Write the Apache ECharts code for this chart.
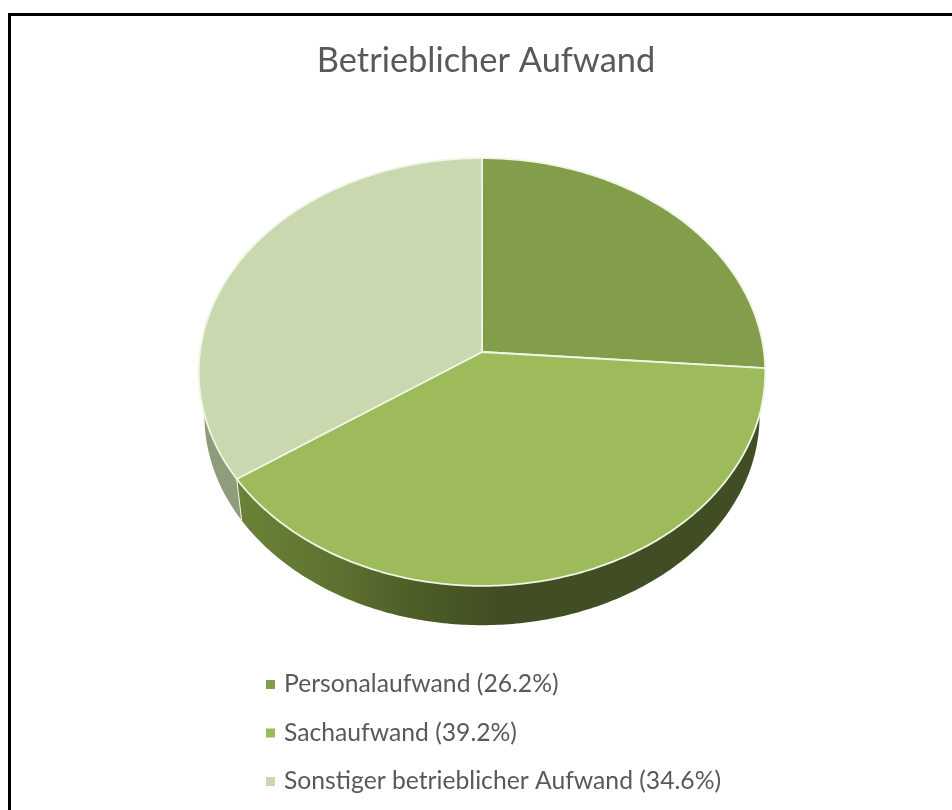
<!DOCTYPE html>
<html lang="de" style="height: 100%">
<head>
  <meta charset="utf-8">
</head>
<body style="height: 100%; margin: 0; background: #fff">
  <div id="container" style="width: 952px; height: 810px"></div>

  <script type="text/javascript" src="https://cdn.jsdelivr.net/npm/echarts@6/dist/echarts.min.js"></script>
  <script type="text/javascript">
    var categories = ['Personalaufwand', 'Sachaufwand', 'Sonstiger betrieblicher Aufwand'];
    var values = [26.2, 39.2, 34.6];
    var topColors = ['#839e4a', '#9dbb5b', '#c9d8ae'];

    // side wall colours, left to right
    var sideColors = [
      ['#5f7530', '#5f7530'],
      ['#6a8237', '#5f7431', '#4d5e28', '#414d22'],
      ['#8e9c7a', '#98a488']
    ];
    var sideGradientStart = [205, 240, 205];

    // disc projection: pie is tilted, so the near half looks larger than the far half
    var cx = 482, cy = 352, rx = 282, ry = 212, tilt = 0.0935;
    var depth = 44, bottomScale = 0.98;
    var rimColor = '#f0f5e4';

    var dom = document.getElementById('container');
    var myChart = echarts.init(dom, null, { renderer: 'canvas' });

    function project(pct, scale, dy) {
      var a = pct / 100 * Math.PI * 2;
      var X = Math.sin(a), Y = -Math.cos(a);
      var w = 1 - tilt * Y;
      return [cx + rx * scale * X / w, cy + dy + ry * scale * Y / w];
    }

    function arc(from, to, scale, dy) {
      var pts = [];
      var n = Math.ceil((to - from) * 5);
      for (var i = 0; i <= n; i++) {
        pts.push(project(from + (to - from) * i / n, scale, dy));
      }
      return pts;
    }

    function renderTop(params, api) {
      var pts = [[cx, cy]].concat(arc(api.value(0), api.value(1), 1, 0));
      return {
        type: 'polygon',
        shape: { points: pts },
        style: { fill: api.visual('color'), stroke: rimColor, lineWidth: 1.8, lineJoin: 'round' }
      };
    }

    function renderSide(params, api) {
      var from = api.value(0), to = api.value(1);
      var pts = arc(from, to, 1, 0).concat(arc(from, to, bottomScale, depth).reverse());
      var idx = params.seriesIndex / 2;
      var colors = sideColors[idx];
      var stops = colors.map(function (c, i) {
        return { offset: i / (colors.length - 1), color: c };
      });
      return {
        type: 'group',
        children: [{
          type: 'polygon',
          shape: { points: pts },
          style: { fill: new echarts.graphic.LinearGradient(sideGradientStart[idx], 0, 500, 0, stops, true) }
        }, {
          type: 'line',
          shape: {
            x1: project(from, 1, 0)[0], y1: project(from, 1, 0)[1],
            x2: project(from, bottomScale, depth)[0], y2: project(from, bottomScale, depth)[1]
          },
          style: { stroke: rimColor, lineWidth: 1 }
        }]
      };
    }

    var series = [];
    var start = 0;
    categories.forEach(function (name, i) {
      var label = name + ' (' + values[i].toFixed(1) + '%)';
      var item = [[start, start + values[i]]];
      series.push({
        type: 'custom', name: label, coordinateSystem: 'none', z: 1, silent: true,
        itemStyle: { color: topColors[i] },
        renderItem: renderSide, data: item
      });
      series.push({
        type: 'custom', name: label, coordinateSystem: 'none', z: 2, silent: true,
        itemStyle: { color: topColors[i] },
        renderItem: renderTop, data: item
      });
      start += values[i];
    });

    var option = {
      animation: false,
      backgroundColor: '#fff',
      title: {
        text: 'Betrieblicher Aufwand',
        left: 486,
        top: 44,
        textAlign: 'center',
        padding: 0,
        textStyle: { fontFamily: 'Lato', fontWeight: 'normal', fontSize: 34.4, color: '#595959' }
      },
      legend: {
        orient: 'vertical',
        left: 266,
        top: 672,
        padding: 0,
        itemGap: 23.5,
        itemWidth: 9,
        itemHeight: 9,
        icon: 'rect',
        selectedMode: false,
        textStyle: { fontFamily: 'Lato', fontSize: 24.7, color: '#595959', padding: [0, 0, 0, 4] },
        data: series.filter(function (s, i) { return i % 2 === 1; }).map(function (s) { return s.name; })
      },
      graphic: [
        { type: 'rect', silent: true, shape: { x: 8, y: 13, width: 944, height: 3 }, style: { fill: '#000' } },
        { type: 'rect', silent: true, shape: { x: 8, y: 13, width: 3, height: 797 }, style: { fill: '#000' } }
      ],
      series: series
    };

    myChart.setOption(option);
    window.addEventListener('resize', myChart.resize);
  </script>
</body>
</html>
